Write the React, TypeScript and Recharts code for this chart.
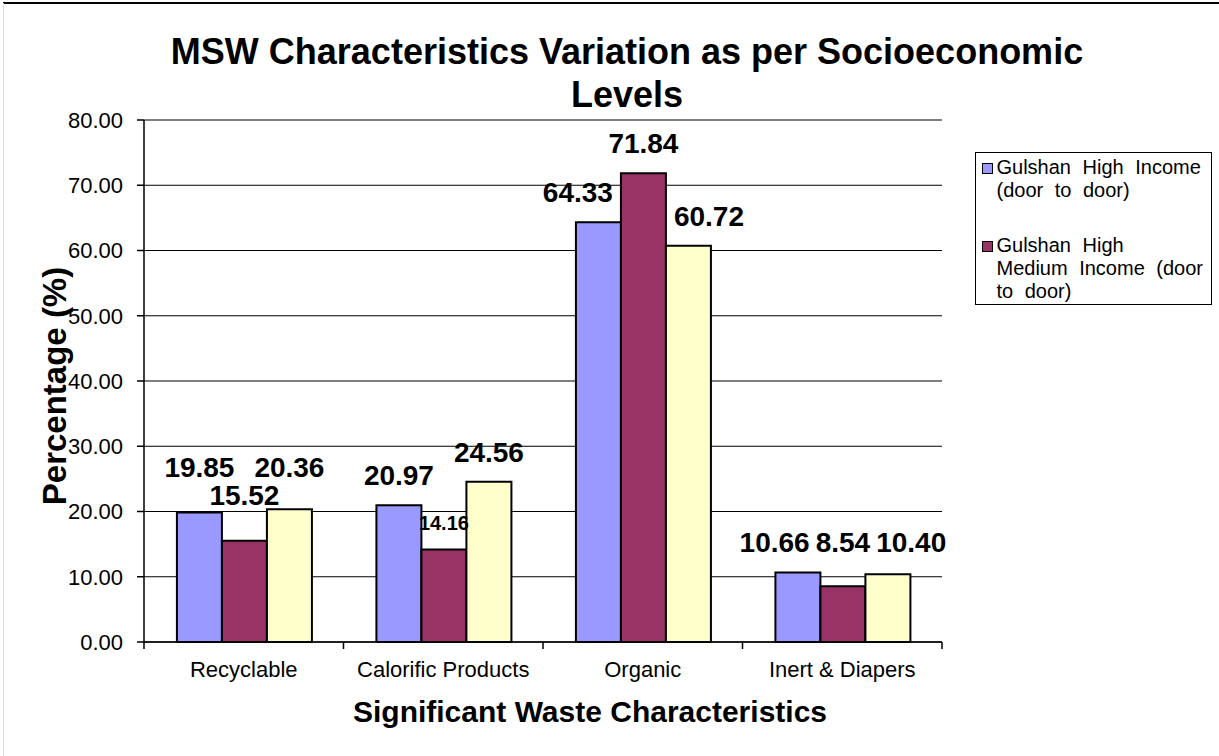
import { BarChart, Bar, XAxis, YAxis, CartesianGrid, Legend, LabelList } from 'recharts'

document.body.style.margin = '0'

const categories = ['Recyclable', 'Calorific Products', 'Organic', 'Inert & Diapers']
const highIncome = [19.85, 20.97, 64.33, 10.66]
const highMediumIncome = [15.52, 14.16, 71.84, 8.54]
const thirdSeries = [20.36, 24.56, 60.72, 10.4]
const yTicks = [0, 10, 20, 30, 40, 50, 60, 70, 80]

const FONT = "'Liberation Sans', Arial, Helvetica, sans-serif"
const W = 1219
const H = 756
const MARGIN = { top: 120, right: 277, bottom: 74, left: 20 }
const Y_AXIS_W = 124
const X_AXIS_H = 40
const PLOT_W = W - MARGIN.left - MARGIN.right - Y_AXIS_W
const PLOT_H = H - MARGIN.top - MARGIN.bottom - X_AXIS_H
const Y_MAX = 80
const LABEL_SIZE = 28
const SMALL_LABEL = 20
const LABEL_OFFSET = 20

const seriesValues = [highIncome, highMediumIncome, thirdSeries]

const data = categories.map((category, i) => ({
  category,
  high: highIncome[i],
  highMedium: highMediumIncome[i],
  third: thirdSeries[i],
}))

const fmt = (v: any) => Number(v).toFixed(2)

// rough text width of a bold number label
const textW = (s: string, size = LABEL_SIZE) =>
  s.split('').reduce((w, c) => w + (c === '.' ? 0.278 : 0.556), 0) * size

// place the three value labels of one category so they don't run into each other or the bars
function layoutGroup(index: number, base: number, bw: number) {
  const vals = seriesValues.map(arr => arr[index])
  const tops = vals.map(v => base - (v / Y_MAX) * PLOT_H)
  const ys = tops.map(t => t - LABEL_OFFSET)
  const ws = vals.map(v => textW(fmt(v)))
  const dx = [0, 0, 0]
  const sizes = [LABEL_SIZE, LABEL_SIZE, LABEL_SIZE]
  const clash = (a: number, b: number) =>
    Math.abs(ys[a] - ys[b]) < LABEL_SIZE * 0.8 && (ws[a] + ws[b]) / 2 + 4 > bw

  if (clash(0, 1) || clash(1, 2)) {
    const top = Math.min(...ys)
    dx[0] = -Math.max(0, (ws[0] + ws[1]) / 2 + 6 - bw)
    dx[2] = Math.max(0, (ws[1] + ws[2]) / 2 + 6 - bw)
    return { ys: [top, top, top], dx, sizes }
  }
  // outer labels beside a taller middle bar slide outward
  if (tops[1] < ys[0] && ws[0] / 2 > bw / 2) dx[0] = -(ws[0] / 2 - bw / 2 + 8)
  if (tops[1] < ys[2] && ws[2] / 2 > bw / 2) dx[2] = ws[2] / 2 - bw / 2 + 8
  // middle label squeezed between taller neighbours
  if (ws[1] / 2 > bw / 2 && (tops[0] < ys[1] || tops[2] < ys[1])) {
    if (Math.abs(tops[0] - tops[2]) < LABEL_SIZE * 0.5) {
      ys[1] = Math.min(ys[1], Math.min(tops[0], tops[2]) - 4)
      for (const s of [0, 2]) if (ys[s] > ys[1] - LABEL_SIZE + 2) ys[s] = ys[1] - LABEL_SIZE
    } else {
      sizes[1] = SMALL_LABEL
    }
  }
  return { ys, dx, sizes }
}

function makeLabel(series: number) {
  return function ValueLabel(props: any) {
    const { x, y, width, height, index } = props
    const base = Number(y) + Number(height)
    const bw = Number(width)
    const cx = Number(x) + bw / 2
    const { ys, dx, sizes } = layoutGroup(index, base, bw)
    return (
      <text x={cx + dx[series]} y={ys[series]} textAnchor="middle" fontFamily={FONT}
        fontSize={sizes[series]} fontWeight={700} fill="#000">
        {fmt(seriesValues[series][index])}
      </text>
    )
  }
}

function CategoryTick(props: any) {
  const { x, y, payload, index } = props
  const band = PLOT_W / categories.length
  return (
    <g>
      <line x1={x + band / 2} x2={x + band / 2} y1={y} y2={y + 7} stroke="#000" strokeWidth={1.5} />
      {index === 0 && <line x1={x - band / 2} x2={x - band / 2} y1={y} y2={y + 7} stroke="#000" strokeWidth={1.5} />}
      <text x={x} y={y + 35} textAnchor="middle" fontFamily={FONT} fontSize={22} fill="#000">
        {payload.value}
      </text>
    </g>
  )
}

function LegendBox({ payload }: any) {
  const items = (payload ?? []).filter((p: any) => p.type !== 'none')
  return (
    <div style={{
      border: '1.5px solid #000', background: '#fff', width: 237, height: 153,
      boxSizing: 'border-box', padding: '2.5px 0 0 5.5px',
      fontFamily: FONT, fontSize: 20, lineHeight: '23px', color: '#000',
    }}>
      {items.map((p: any) => (
        <div key={p.value} style={{ display: 'flex', alignItems: 'flex-start', marginBottom: 32 }}>
          <span style={{
            width: 11, height: 11, boxSizing: 'border-box', border: '1.5px solid #000',
            background: p.color, marginTop: 7, marginRight: 4, flexShrink: 0,
          }} />
          <span style={{ width: 208, wordSpacing: 6 }}>{p.value}</span>
        </div>
      ))}
    </div>
  )
}

export default function App() {
  return (
    <div style={{ position: 'relative', width: W, height: H, background: '#fff', overflow: 'hidden' }}>
      <div style={{ position: 'absolute', left: 3, top: 2, right: 0, height: 2, background: '#000' }} />
      <div style={{ position: 'absolute', left: 3, top: 3, bottom: 0, width: 1, background: '#ddd' }} />
      <BarChart width={W} height={H} data={data} margin={MARGIN} barCategoryGap="16.5%" barGap={0}>
        <CartesianGrid yAxisId="left" vertical={false} stroke="#000" strokeWidth={1.2} />
        <XAxis
          dataKey="category"
          height={X_AXIS_H}
          interval={0}
          tickSize={0}
          tickMargin={0}
          tickLine={false}
          axisLine={{ stroke: '#000', strokeWidth: 1.5 }}
          tick={<CategoryTick />}
        />
        <YAxis
          yAxisId="left"
          width={Y_AXIS_W}
          domain={[0, Y_MAX]}
          ticks={yTicks}
          tickFormatter={fmt}
          tickSize={7}
          tickMargin={14}
          tickLine={{ stroke: '#000', strokeWidth: 1.5 }}
          axisLine={{ stroke: '#000', strokeWidth: 1.5 }}
          tick={{ fontFamily: FONT, fontSize: 22, fill: '#000' }}
        />
        <YAxis
          yAxisId="right"
          orientation="right"
          width={0}
          domain={[0, Y_MAX]}
          tick={false}
          tickLine={false}
          axisLine={{ stroke: '#000', strokeWidth: 1.5 }}
        />
        <Legend
          layout="vertical"
          align="center"
          verticalAlign="middle"
          content={<LegendBox />}
          wrapperStyle={{ left: 975, top: 152, width: 237, height: 153 }}
        />
        <Bar yAxisId="left" dataKey="high" name="Gulshan High Income (door to door)" fill="#9999FF" stroke="#000" strokeWidth={2} isAnimationActive={false}>
          <LabelList dataKey="high" content={makeLabel(0)} />
        </Bar>
        <Bar yAxisId="left" dataKey="highMedium" name="Gulshan High Medium Income (door to door)" fill="#993366" stroke="#000" strokeWidth={2} isAnimationActive={false}>
          <LabelList dataKey="highMedium" content={makeLabel(1)} />
        </Bar>
        <Bar yAxisId="left" dataKey="third" name="Series 3" legendType="none" fill="#FFFFCC" stroke="#000" strokeWidth={2} isAnimationActive={false}>
          <LabelList dataKey="third" content={makeLabel(2)} />
        </Bar>
      </BarChart>
      <div style={{
        position: 'absolute', left: 127, top: 30, width: 1000, textAlign: 'center',
        fontFamily: FONT, fontSize: 36, fontWeight: 700, lineHeight: '43px', color: '#000',
      }}>
        MSW Characteristics Variation as per Socioeconomic Levels
      </div>
      <div style={{
        position: 'absolute', left: 290, top: 694, width: 600, textAlign: 'center',
        fontFamily: FONT, fontSize: 30, fontWeight: 700, lineHeight: '36px', color: '#000',
      }}>
        Significant Waste Characteristics
      </div>
      <div style={{
        position: 'absolute', left: 55, top: 386, transform: 'translate(-50%, -50%) rotate(-90deg)',
        whiteSpace: 'nowrap', fontFamily: FONT, fontSize: 33, fontWeight: 700, color: '#000',
      }}>
        Percentage (%)
      </div>
    </div>
  )
}
